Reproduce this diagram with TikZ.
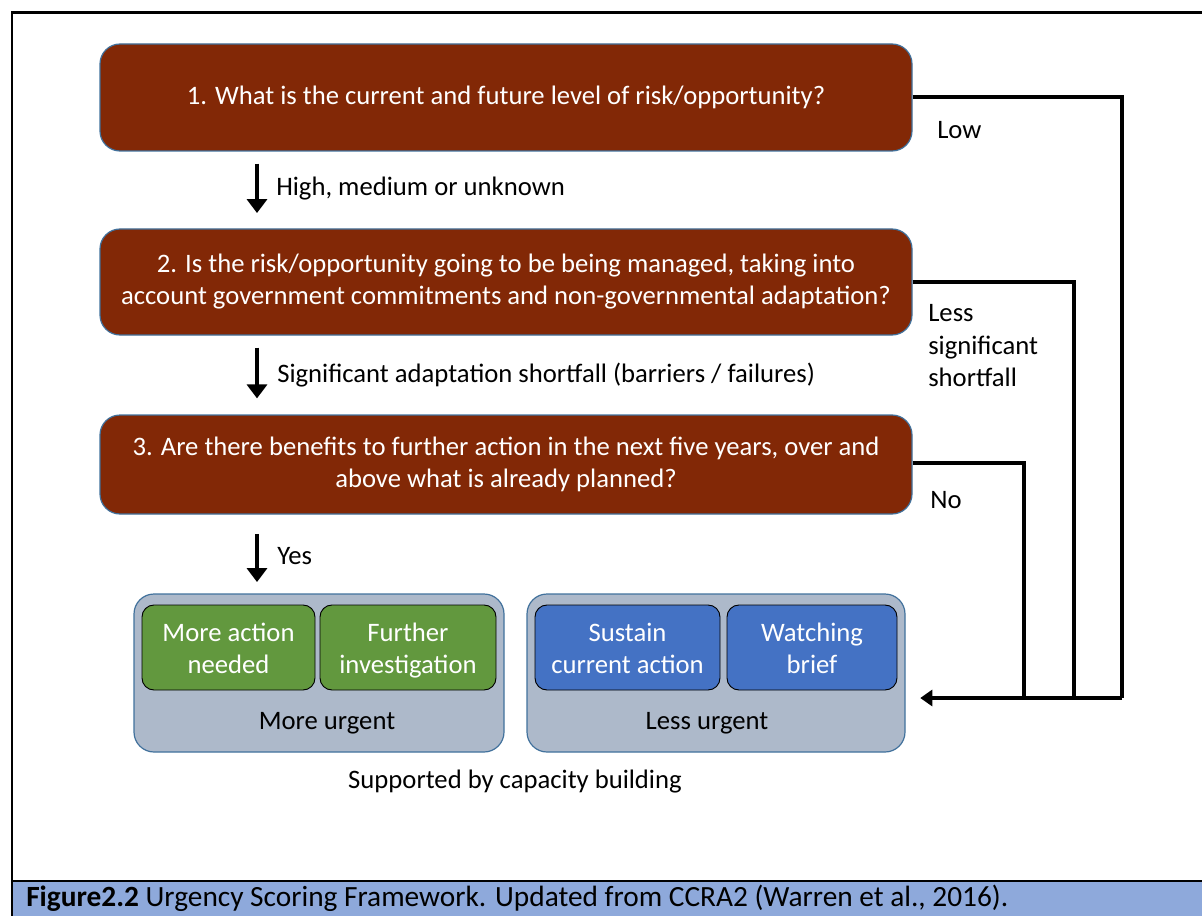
\documentclass[tikz,border=0pt]{standalone}
\usepackage{fontspec}
\setmainfont{Carlito}
\usetikzlibrary{arrows.meta}
\definecolor{qbrown}{RGB}{130,40,6}
\definecolor{qedge}{RGB}{65,113,156}
\definecolor{qgreen}{RGB}{98,152,62}
\definecolor{qblue}{RGB}{68,114,196}
\definecolor{qgroup}{RGB}{173,185,202}
\definecolor{qcaption}{RGB}{142,169,219}
% taller first-line strut lowers the two-line outcome labels a little
\newcommand{\firstline}{\rule{0pt}{22pt}}
\tikzset{
  question/.style={draw=qedge, line width=0.9pt, fill=qbrown, text=white,
    rounded corners=15pt, align=center, minimum width=609pt,
    font=\fontsize{20}{24}\selectfont, inner sep=0pt},
  outcomegroup/.style={draw=qedge, line width=0.9pt, fill=qgroup, rounded corners=15pt,
    minimum height=118.5pt, inner sep=0pt},
  outcome/.style={draw=black, line width=0.7pt, rounded corners=9pt, text=white,
    align=center, minimum height=63.75pt, inner sep=0pt,
    font=\fontsize{20}{24}\selectfont},
  plain/.style={font=\fontsize{20}{24}\selectfont, inner sep=0pt},
  flowdown/.style={line width=2.8pt, -{Triangle[length=10.5pt,width=15pt]}},
  routeline/.style={line width=2.8pt},
  backarrow/.style={line width=2.8pt, -{Triangle[length=9pt,width=12pt]}},
}
\begin{document}
\begin{tikzpicture}[x=0.75pt,y=-0.75pt]
  \useasboundingbox (0,0) rectangle (1202,916);

  % caption band and frame
  \fill[qcaption] (12,882) rectangle (1202,916);
  \draw[line width=2.2pt] (1202,12.5) -- (12,12.5) -- (12,916);
  \draw[line width=2.2pt] (12,881) -- (1202,881);
  \node[plain, anchor=west, font=\fontsize{22}{26}\selectfont] (caption) at (26,898.5)
    {\textbf{Figure2.2} Urgency Scoring Framework. Updated from CCRA2 (Warren et al., 2016).};

  % the three questions
  \node[question, minimum height=80.25pt] (q1) at (506,97.5)
    {1. What is the current and future level of risk/opportunity?};
  \node[question, minimum height=79.5pt] (q2) at (506,282)
    {2. Is the risk/opportunity going to be being managed, taking into\\
     account government commitments and non-governmental adaptation?};
  \node[question, minimum height=74.25pt] (q3) at (506,464.5)
    {3. Are there benefits to further action in the next five years, over and\\
     above what is already planned?};

  % downward arrows between the questions
  \coordinate (ax) at (257,0);
  \draw[flowdown, shorten <=9pt, shorten >=11.5pt] (q1.south -| ax) -- (q2.north -| ax);
  \draw[flowdown, shorten <=9pt, shorten >=12pt] (q2.south -| ax) -- (q3.north -| ax);
  \node[plain, anchor=west] (l1) at (276,189) {High, medium or unknown};
  \node[plain, anchor=west] (l2) at (277,375) {Significant adaptation shortfall (barriers / failures)};
  \node[plain, anchor=west] (l3) at (277,556) {Yes};

  % outcome groups
  \node[outcomegroup, minimum width=277.5pt] (more) at (319,673) {};
  \node[outcomegroup, minimum width=283.5pt] (less) at (716,673) {};
  \node[outcome, fill=qgreen, minimum width=129.75pt] (o1) at (228.5,647.5)
    {\firstline More action\\needed\strut};
  \node[outcome, fill=qgreen, minimum width=132pt] (o2) at (408,647.5)
    {\firstline Further\\investigation\strut};
  \node[outcome, fill=qblue, minimum width=138.75pt] (o3) at (627.5,647.5)
    {\firstline Sustain\\current action\strut};
  \node[outcome, fill=qblue, minimum width=127.5pt] (o4) at (812,647.5)
    {\firstline Watching\\brief\strut};
  \node[plain] (mu) at (327,723) {More urgent};
  \node[plain] (lu) at (707,723) {Less urgent};
  \node[plain] (cap) at (515,782) {Supported by capacity building};

  \draw[flowdown, shorten <=14.5pt, shorten >=8.5pt] (q3.south -| ax) -- (more.north -| ax);

  % return routes to the less urgent group
  \coordinate (j1) at (1122,698);
  \coordinate (j2) at (1074,698);
  \coordinate (j3) at (1024,698);
  \draw[routeline] (q1.east |- 0,97) -| (j1);
  \draw[routeline] (q2.east) -| (j2);
  \draw[routeline] (q3.east |- 0,463) -| (j3);
  \draw[backarrow, shorten >=11pt] (j1) -- (less.east |- j1);

  \node[plain, anchor=west] (low) at (937,130) {Low};
  \node[plain, anchor=west, align=left, font=\fontsize{20}{24.4}\selectfont] (lss) at (928,346)
    {Less\\significant\\shortfall};
  \node[plain, anchor=west] (no) at (930,500) {No};
\end{tikzpicture}
\end{document}
